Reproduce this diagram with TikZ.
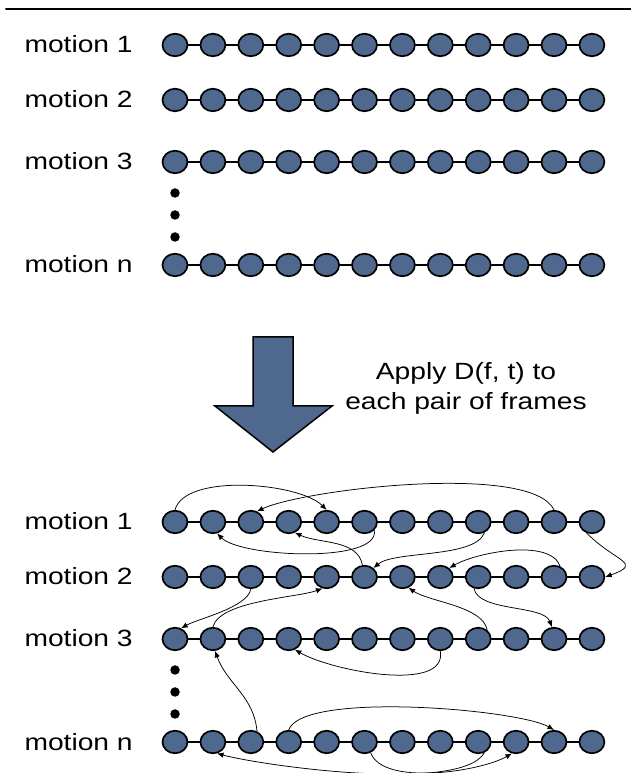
\documentclass[tikz,border=0pt]{standalone}
\usepackage{fontspec}
\setmainfont[FakeStretch=1.2]{Liberation Sans}
\usetikzlibrary{arrows.meta,shapes.geometric}
\definecolor{FrameBlue}{RGB}{79,104,142}

\tikzset{FrameDot/.style={ellipse,draw=black,line width=1.7pt,fill=FrameBlue,
           minimum width=25pt,minimum height=22.5pt,inner sep=0pt},
         FrameLink/.style={line width=1.8pt},
         GapDot/.style={circle,fill=black,minimum size=9.5pt,inner sep=0pt},
         MatchArc/.style={line width=.75pt,-{Latex[length=6.5pt,width=5.5pt]}},
         MotionLabel/.style={anchor=base west}}

\begin{document}
\begin{tikzpicture}[x=1pt,y=1pt,line cap=round,
  every node/.style={font=\fontsize{23.5}{30}\selectfont}]
  \useasboundingbox (0,0) rectangle (631,773);
  \draw[line width=2pt] (6,764) -- (631,764);
  % Two copies of the motion list: before (a) and after (b).
  \foreach \p/\dy in {a/0,b/477} {
    \foreach \r/\y in {1/728,2/673,3/611,n/508} {
      \node[MotionLabel] (\p\r-lab) at (21,\y-\dy-8) {motion \r};
      \foreach \i in {0,...,11}
        \node[FrameDot] (\p\r-\i) at (175+37.9*\i,\y-\dy) {};
      \foreach \i [evaluate=\i as \j using int(\i+1)] in {0,...,10}
        \draw[FrameLink] (\p\r-\i) -- (\p\r-\j);
    }
    \foreach \k/\y in {1/580,2/558,3/536}
      \node[GapDot] (\p-dot\k) at (175,\y-\dy) {};
  }
  % Block arrow and its caption.
  \draw[line width=1.5pt,fill=FrameBlue] (253,436) -- (293,436) -- (293,367)
    -- (332,367) -- (273,321) -- (215,367) -- (253,367) -- cycle;
  \node[align=center] (applytext) at (466,385) {Apply D(f, t) to\\each pair of frames};
  % Transitions between frames.
  \draw[MatchArc] (b1-0.north) to[out=75,in=135,looseness=.65] (b1-4.north);
  \draw[MatchArc] (b1-10.north) to[out=115,in=25,looseness=.45] (b1-2.60);
  \draw[MatchArc] (b1-5.-40) to[out=-80,in=-45,looseness=.55] (b1-1.-70);
  \draw[MatchArc] (b2-5.100) to[out=100,in=-25,looseness=.9] (b1-3.-60);
  \draw[MatchArc] (b1-8.-60) to[out=-110,in=40,looseness=.6] (b2-5.45);
  \draw[MatchArc] (b2-10.60) to[out=110,in=30,looseness=.7] (b2-7.45);
  \draw[MatchArc] (b1-11.-115) to[out=-45,in=20,looseness=2.2] (b2-11.east);
  \draw[MatchArc] (b2-2.-90) to[out=-100,in=30,looseness=.6] (b3-0.60);
  \draw[MatchArc] (b3-1.north) to[out=75,in=-160,looseness=.6] (b2-4.-110);
  \draw[MatchArc] (b3-8.45) to[out=100,in=-35,looseness=.7] (b2-6.-60);
  \draw[MatchArc] (b2-8.-110) to[out=-80,in=110,looseness=.7] (b3-10.100);
  \draw[MatchArc] (b3-7.-90) to[out=-80,in=-30,looseness=.75] (b3-3.-60);
  \draw[MatchArc] (bn-2.60) to[out=95,in=-70,looseness=1] (b3-1.-80);
  \draw[MatchArc] (bn-3.north) to[out=70,in=150,looseness=.4] (bn-10.north);
  \draw[MatchArc] (bn-5.-60) to[out=-70,in=-150,looseness=.65] (bn-9.-110);
  \draw[MatchArc] (bn-8.-60) to[out=-120,in=-15,looseness=.45] (bn-1.-70);
\end{tikzpicture}
\end{document}
